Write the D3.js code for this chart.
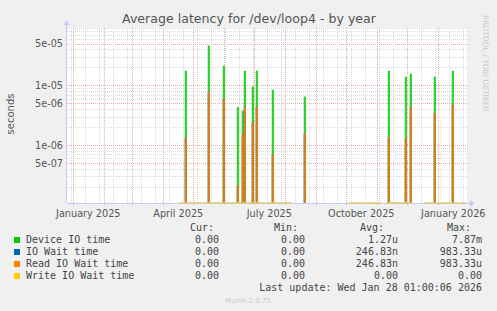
<!DOCTYPE html>
<html>
<head>
<meta charset="utf-8">
<script src="https://cdn.jsdelivr.net/npm/d3@7"></script>
<style>
  body { margin: 0; background: #f0f0f0; }
  svg { display: block; font-family: "DejaVu Sans", sans-serif; }
  .mono { font-family: "DejaVu Sans Mono", monospace; font-size: 10px; fill: #444; }
</style>
</head>
<body>
<div id="chart"></div>
<script>
// daily averages (seconds) where the device showed any latency
const deviceIO = [
  ['2025-04-23', 1.74e-5], ['2025-05-16', 4.56e-5], ['2025-05-31', 2.1e-5],
  ['2025-06-14', 4.3e-6], ['2025-06-19', 3.7e-6], ['2025-06-21', 1.74e-5],
  ['2025-06-29', 9.4e-6], ['2025-07-03', 1.74e-5], ['2025-07-19', 8.3e-6],
  ['2025-08-20', 6.4e-6], ['2025-11-12', 1.74e-5], ['2025-11-29', 1.38e-5],
  ['2025-12-04', 1.55e-5], ['2025-12-28', 1.38e-5], ['2026-01-15', 1.74e-5]
];
const ioWait = [
  ['2025-04-23', 1.32e-6], ['2025-05-16', 7.8e-6], ['2025-05-31', 6e-6],
  ['2025-06-14', 2.1e-7], ['2025-06-19', 1.5e-6], ['2025-06-21', 4.3e-6],
  ['2025-06-29', 2.4e-6], ['2025-07-03', 4.3e-6], ['2025-07-19', 6.9e-7],
  ['2025-08-20', 1.56e-6], ['2025-11-12', 1.32e-6], ['2025-11-29', 1.3e-6],
  ['2025-12-04', 4.3e-6], ['2025-12-28', 3.4e-6], ['2026-01-15', 4.7e-6]
];
const readWait = [
  ['2025-04-23', 1.32e-6], ['2025-05-16', 7.8e-6], ['2025-05-31', 6e-6],
  ['2025-06-14', 2.1e-7], ['2025-06-19', 1.5e-6], ['2025-06-21', 4.3e-6],
  ['2025-06-29', 2.4e-6], ['2025-07-03', 4.3e-6], ['2025-07-19', 6.9e-7],
  ['2025-08-20', 1.56e-6], ['2025-11-12', 1.32e-6], ['2025-11-29', 1.3e-6],
  ['2025-12-04', 4.3e-6], ['2025-12-28', 3.4e-6], ['2026-01-15', 4.7e-6]
];
// write wait stays at 0 over the periods that have data
const writeWaitRanges = [
  ['2025-04-17', '2025-08-08'], ['2025-10-03', '2025-11-05'],
  ['2025-11-10', '2025-12-05'], ['2025-12-18', '2026-01-29']
];

const legendNames = ['Device IO time', 'IO Wait time', 'Read IO Wait time', 'Write IO Wait time'];
const legendColors = ['#00cc00', '#0066b3', '#ff8000', '#ffcc00'];
const curValues = ['0.00', '0.00', '0.00', '0.00'];
const minValues = ['0.00', '0.00', '0.00', '0.00'];
const avgValues = ['1.27u', '246.83n', '246.83n', '0.00'];
const maxValues = ['7.87m', '983.33u', '983.33u', '0.00'];
const yTickValues = [5e-5, 1e-5, 5e-6, 1e-6, 5e-7];

const width = 497, height = 311;
const plot = { left: 67, right: 467, top: 28, bottom: 203 };
const DAY = 864e5;
const parse = d3.utcParse('%Y-%m-%d');

const start = new Date(Date.UTC(2024, 11, 25, 16, 48));
const x = d3.scaleUtc()
  .domain([start, new Date(+start + 400 * DAY)])
  .range([plot.left, plot.right]);
const y = d3.scaleLog()
  .domain([1.07e-7, 9.14e-5])
  .range([plot.bottom, plot.top]);
const floor = y.domain()[0];

const svg = d3.select('#chart').append('svg')
  .attr('width', width).attr('height', height);

svg.append('rect')
  .attr('x', plot.left).attr('y', plot.top)
  .attr('width', plot.right - plot.left).attr('height', plot.bottom - plot.top)
  .attr('fill', '#fff');

// grid
const grid = svg.append('g').attr('shape-rendering', 'crispEdges');
const minorY = [];
for (let e = -8; e <= -4; e++) {
  for (let m = 1; m <= 9; m++) {
    const v = m * Math.pow(10, e);
    if (v >= floor && v <= y.domain()[1]) minorY.push({ v, major: m === 1 || m === 5 });
  }
}
grid.selectAll('line.hy').data(minorY).join('line')
  .attr('x1', plot.left).attr('x2', plot.right + 2)
  .attr('y1', d => Math.round(y(d.v)) + 0.5).attr('y2', d => Math.round(y(d.v)) + 0.5)
  .attr('stroke', d => d.major ? '#ebaaaa' : '#dadada')
  .attr('stroke-dasharray', '1,1');

const weeks = d3.utcMonday.every(2).range(x.domain()[0], x.domain()[1]);
grid.selectAll('line.vw').data(weeks).join('line')
  .attr('x1', d => Math.round(x(d)) + 0.5).attr('x2', d => Math.round(x(d)) + 0.5)
  .attr('y1', plot.top).attr('y2', plot.bottom)
  .attr('stroke', '#dadada').attr('stroke-dasharray', '1,1');

const months = d3.utcMonth.range(x.domain()[0], x.domain()[1]);
grid.selectAll('line.vm').data(months).join('line')
  .attr('x1', d => Math.round(x(d)) + 0.5).attr('x2', d => Math.round(x(d)) + 0.5)
  .attr('y1', plot.top).attr('y2', plot.bottom + 3)
  .attr('stroke', '#ebaaaa').attr('stroke-dasharray', '1,1');

// axes lines and arrows
svg.append('line')
  .attr('x1', plot.left).attr('x2', plot.right + 4)
  .attr('y1', plot.bottom + 0.5).attr('y2', plot.bottom + 0.5)
  .attr('stroke', '#c8ccf4');
svg.append('line')
  .attr('x1', plot.left - 0.5).attr('x2', plot.left - 0.5)
  .attr('y1', plot.bottom).attr('y2', plot.top - 5)
  .attr('stroke', '#c8ccf4');
svg.append('path')
  .attr('d', `M${plot.right + 3},${plot.bottom - 3}L${plot.right + 8},${plot.bottom + 0.5}L${plot.right + 3},${plot.bottom + 4}Z`)
  .attr('fill', '#c8ccf4');
svg.append('path')
  .attr('d', `M${plot.left - 4},${plot.top - 3}L${plot.left - 0.5},${plot.top - 8}L${plot.left + 3},${plot.top - 3}Z`)
  .attr('fill', '#c8ccf4');

// series
const line = d3.line()
  .x(d => x(d.t))
  .y(d => y(Math.max(d.v, floor)));

function spikePoints(series) {
  const pts = [];
  series.forEach(([day, v]) => {
    const t = parse(day);
    const t2 = new Date(+t + DAY);
    pts.push({ t, v: floor }, { t, v }, { t: t2, v }, { t: t2, v: floor });
  });
  return pts;
}

const marks = svg.append('g');
[deviceIO, ioWait, readWait].forEach((series, i) => {
  series.forEach(s => {
    marks.append('path')
      .attr('d', line(spikePoints([s])))
      .attr('fill', 'none')
      .attr('stroke', legendColors[i])
      .attr('stroke-width', 1);
  });
});
writeWaitRanges.forEach(([a, b]) => {
  marks.append('path')
    .attr('d', line([{ t: parse(a), v: 0 }, { t: parse(b), v: 0 }]))
    .attr('stroke', '#e0c870')
    .attr('stroke-width', 1.6);
});

// x labels
const labelMonths = d3.utcMonth.every(3).range(x.domain()[0], x.domain()[1]);
svg.append('g').selectAll('text').data(labelMonths).join('text')
  .attr('x', d => x(new Date(+d + 15 * DAY)))
  .attr('y', plot.bottom + 14)
  .attr('text-anchor', 'middle')
  .attr('font-size', 9.7)
  .attr('fill', '#555')
  .text(d3.utcFormat('%B %Y'));

// y labels
svg.append('g').selectAll('text').data(yTickValues).join('text')
  .attr('x', plot.left - 4)
  .attr('y', d => y(d) + 3.5)
  .attr('text-anchor', 'end')
  .attr('font-size', 9.7)
  .attr('fill', '#555')
  .text(d => d3.format('.0e')(d).replace(/e([+-])(\d)$/, 'e$10$2'));

svg.append('text')
  .attr('transform', 'translate(14,114) rotate(-90)')
  .attr('text-anchor', 'middle')
  .attr('font-size', 10)
  .attr('fill', '#555')
  .text('seconds');

svg.append('text')
  .attr('x', 249).attr('y', 23)
  .attr('text-anchor', 'middle')
  .attr('font-size', 12.6)
  .attr('fill', '#555')
  .text('Average latency for /dev/loop4 - by year');

svg.append('text')
  .attr('transform', 'translate(483,15) rotate(90)')
  .attr('font-size', 7.5)
  .attr('fill', '#c8c8c8')
  .text('RRDTOOL / TOBI OETIKER');

// legend
const legend = svg.append('g');
const headers = [['Cur:', 190], ['Min:', 274], ['Avg:', 360], ['Max:', 447]];
legend.selectAll('text.h').data(headers).join('text')
  .attr('class', 'mono')
  .attr('x', d => d[1]).attr('y', 231)
  .text(d => d[0]);

legendNames.forEach((name, i) => {
  const yy = 243 + i * 12;
  legend.append('rect')
    .attr('x', 14).attr('y', yy - 6).attr('width', 6).attr('height', 6)
    .attr('fill', legendColors[i]);
  legend.append('text').attr('class', 'mono').attr('x', 26).attr('y', yy).text(name);
  [[curValues, 219], [minValues, 305], [avgValues, 398], [maxValues, 482]].forEach(([vals, xr]) => {
    legend.append('text').attr('class', 'mono')
      .attr('x', xr).attr('y', yy).attr('text-anchor', 'end').text(vals[i]);
  });
});
legend.append('text').attr('class', 'mono')
  .attr('x', 482).attr('y', 291).attr('text-anchor', 'end')
  .text('Last update: Wed Jan 28 01:00:06 2026');

svg.append('text')
  .attr('x', 248).attr('y', 303)
  .attr('text-anchor', 'middle')
  .attr('font-size', 7)
  .attr('fill', '#c8c8c8')
  .text('Munin 2.0.75');
</script>
</body>
</html>
